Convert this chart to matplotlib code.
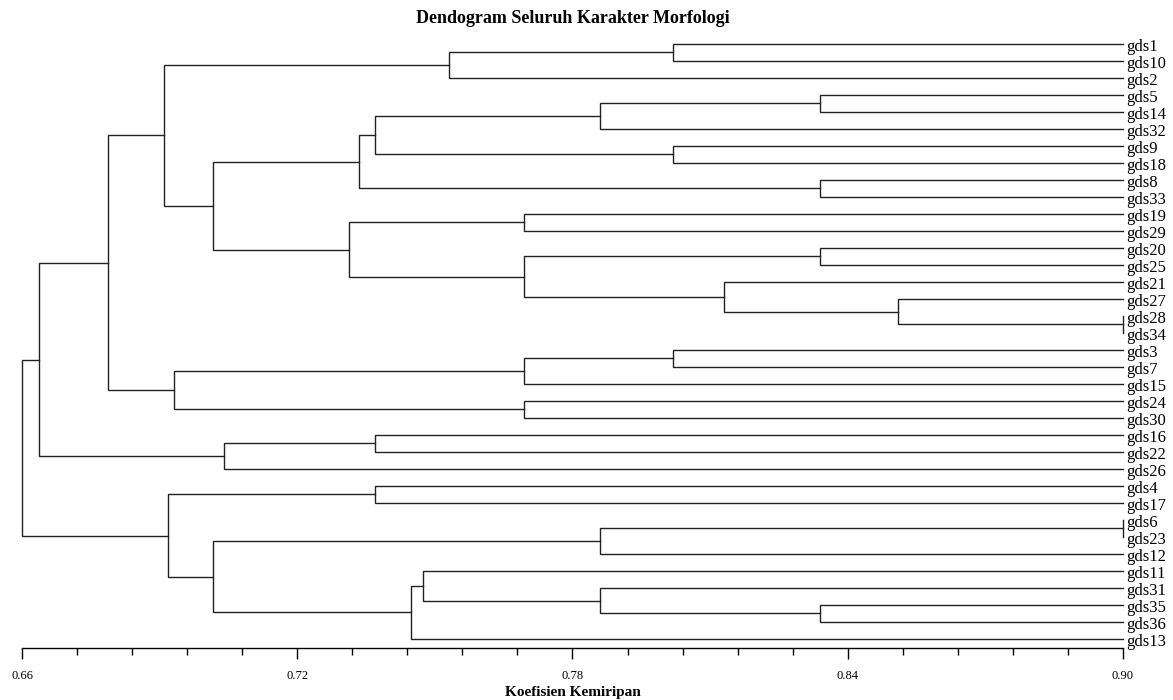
import matplotlib
matplotlib.use("Agg")
import matplotlib.pyplot as plt
import numpy as np

# leaf order, top to bottom
leaves = ["gds1", "gds10", "gds2", "gds5", "gds14", "gds32", "gds9", "gds18",
          "gds8", "gds33", "gds19", "gds29", "gds20", "gds25", "gds21", "gds27",
          "gds28", "gds34", "gds3", "gds7", "gds15", "gds24", "gds30", "gds16",
          "gds22", "gds26", "gds4", "gds17", "gds6", "gds23", "gds12", "gds11",
          "gds31", "gds35", "gds36", "gds13"]

# (left, right, similarity); ints point to earlier merges
merges = [
    ("gds1", "gds10", 0.802),    # 0
    (0, "gds2", 0.753),          # 1
    ("gds5", "gds14", 0.834),    # 2
    (2, "gds32", 0.786),         # 3
    ("gds9", "gds18", 0.802),    # 4
    (3, 4, 0.737),               # 5
    ("gds8", "gds33", 0.834),    # 6
    (5, 6, 0.7334),              # 7
    ("gds19", "gds29", 0.7695),  # 8
    ("gds20", "gds25", 0.834),   # 9
    ("gds28", "gds34", 0.90),    # 10
    ("gds27", 10, 0.851),        # 11
    ("gds21", 11, 0.813),        # 12
    (9, 12, 0.7695),             # 13
    (8, 13, 0.7312),             # 14
    (7, 14, 0.7016),             # 15
    (1, 15, 0.6909),             # 16
    ("gds3", "gds7", 0.802),     # 17
    (17, "gds15", 0.7695),       # 18
    ("gds24", "gds30", 0.7695),  # 19
    (18, 19, 0.6932),            # 20
    (16, 20, 0.6787),            # 21
    ("gds16", "gds22", 0.737),   # 22
    (22, "gds26", 0.704),        # 23
    (21, 23, 0.6637),            # 24
    ("gds4", "gds17", 0.737),    # 25
    ("gds6", "gds23", 0.90),     # 26
    (26, "gds12", 0.786),        # 27
    ("gds35", "gds36", 0.834),   # 28
    ("gds31", 28, 0.786),        # 29
    ("gds11", 29, 0.7475),       # 30
    (30, "gds13", 0.7447),       # 31
    (27, 31, 0.7016),            # 32
    (25, 32, 0.6918),            # 33
    (24, 33, 0.66),              # 34
]

xmin, xmax = 0.66, 0.90

plt.rcParams["font.family"] = ["Liberation Serif", "DejaVu Serif"]
fig = plt.figure(figsize=(11.73, 7.0), dpi=100)
ax = fig.add_axes([22 / 1173, 52 / 700, 1101 / 1173, 618 / 700])

pos = {}
for i, name in enumerate(leaves):
    pos[name] = (xmax, i)

def node(k):
    return pos[k] if isinstance(k, str) else pos[("m", k)]

lw = 1.0
col = "#222222"
for j, (a, b, h) in enumerate(merges):
    xa, ya = node(a)
    xb, yb = node(b)
    ax.plot([xa, h, h, xb], [ya, ya, yb, yb], color=col, lw=lw,
            solid_joinstyle="miter", clip_on=False)
    pos[("m", j)] = (h, (ya + yb) / 2)

for i, name in enumerate(leaves):
    ax.annotate(name, (xmax, i), xytext=(2.5, -2.5), textcoords="offset points",
                va="center", ha="left", fontsize=12, annotation_clip=False)

ax.set_xlim(xmin, xmax)
ax.set_ylim(len(leaves) - 1 + 0.53, -0.82)
for s in ["top", "right", "left"]:
    ax.spines[s].set_visible(False)
ax.spines["bottom"].set_linewidth(1.0)
ax.set_yticks([])
ax.set_xticks(np.round(np.arange(xmin, xmax + 0.001, 0.06), 2))
ax.set_xticks(np.arange(xmin, xmax + 0.001, 0.012), minor=True)
ax.xaxis.set_major_formatter(matplotlib.ticker.FormatStrFormatter("%.2f"))
ax.tick_params(axis="x", which="major", length=8, width=1, labelsize=9, pad=8)
ax.tick_params(axis="x", which="minor", length=5, width=1)
ax.set_xlabel("Koefisien Kemiripan", fontsize=11, fontweight="bold", labelpad=3)
fig.text(0.488, 0.974, "Dendogram Seluruh Karakter Morfologi", ha="center",
         va="center", fontsize=13, fontweight="bold")

fig.savefig("out.png", dpi=100)
